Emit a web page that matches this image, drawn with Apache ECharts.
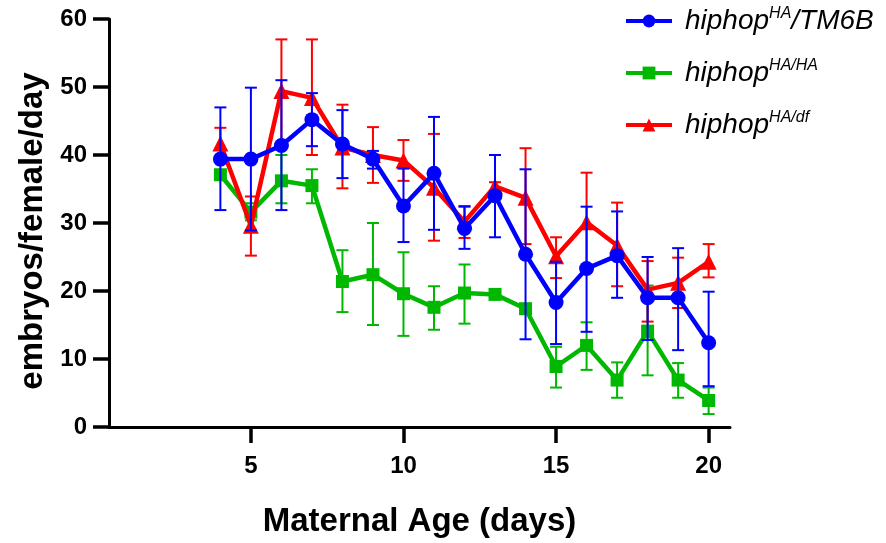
<!DOCTYPE html>
<html><head><meta charset="utf-8">
<script src="https://cdn.jsdelivr.net/npm/echarts@6/dist/echarts.min.js"></script>
<style>html,body{margin:0;padding:0;background:#fff}#c{width:886px;height:543px}</style>
</head><body><div id="c"></div>
<script>
const days = [4,5,6,7,8,9,10,11,12,13,14,15,16,17,18,19,20];
const xTicks = [5,10,15,20];
const yTicks = [0,10,20,30,40,50,60];

const tm6bMean  = [39.4,39.4,41.4,45.2,41.6,39.4,32.5,37.3,29.2,34.0,25.4,18.3,23.3,25.2,19.0,19.0,12.4];
const tm6bUpper = [47.0,49.9,51.0,49.1,46.6,40.6,38.0,45.6,32.4,40.0,37.9,24.3,32.4,31.7,25.0,26.3,19.9];
const tm6bLower = [31.9,28.9,31.9,41.3,36.6,38.0,27.2,29.0,26.2,27.9,12.9,12.2,14.0,19.0,12.8,11.3,6.0];

const haMean  = [37.1,31.6,36.2,35.5,21.4,22.4,19.6,17.6,19.7,19.5,17.4,8.9,12.0,6.9,14.1,6.9,3.9];
const haUpper = [37.6,32.9,40.0,37.9,26.0,30.0,25.7,20.7,23.9,19.9,17.8,11.8,15.4,9.5,20.8,9.4,5.8];
const haLower = [36.6,30.4,32.9,32.9,16.9,15.0,13.4,14.3,15.2,19.1,17.0,5.8,8.4,4.3,7.6,4.3,1.9];

const dfMean  = [41.7,29.6,49.4,48.4,41.1,40.0,39.2,35.2,30.2,35.4,33.7,25.1,30.1,26.7,20.2,21.2,24.3];
const dfUpper = [44.0,33.9,57.0,57.0,47.4,44.1,42.2,43.1,32.5,36.0,41.0,27.9,37.4,33.0,24.4,24.9,26.9];
const dfLower = [39.4,25.2,41.8,40.0,35.1,35.9,36.2,27.4,27.8,34.8,26.9,21.9,22.8,20.7,15.5,17.5,22.0];

const names = ['tm6b','haha','hadf'];
const BLUE = '#0000FF', GREEN = '#00B800', RED = '#FF0000';

function pts(mean){ return days.map((d,i)=>[d, mean[i]]); }
function errs(lo, hi){ return days.map((d,i)=>[d, lo[i], hi[i]]); }

function errSeries(data, color, z){
  return {
    type:'custom', data:data, z:z, silent:true,
    encode:{x:0, y:[1,2]},
    renderItem:function(params, api){
      const x = api.value(0), lo = api.value(1), hi = api.value(2);
      const a = api.coord([x, lo]), b = api.coord([x, hi]);
      const w = 6;
      const st = {stroke:color, lineWidth:2};
      return {type:'group', children:[
        {type:'line', shape:{x1:a[0],y1:a[1],x2:b[0],y2:b[1]}, style:st},
        {type:'line', shape:{x1:a[0]-w,y1:a[1],x2:a[0]+w,y2:a[1]}, style:st},
        {type:'line', shape:{x1:b[0]-w,y1:b[1],x2:b[0]+w,y2:b[1]}, style:st}
      ]};
    }
  };
}
function lineSeries(name, data, color, symbol, size, z){
  return {
    name:name, type:'line', data:data, z:z,
    symbol:symbol, symbolSize:size, showSymbol:true,
    lineStyle:{color:color, width:4.5},
    itemStyle:{color:color},
    emphasis:{disabled:true}, animation:false
  };
}

const chart = echarts.init(document.getElementById('c'), null, {renderer:'canvas'});
const axisFont = 'Liberation Sans, Arial, sans-serif';
chart.setOption({
  animation:false,
  backgroundColor:'#fff',
  grid:{left:109, right:156, top:19, bottom:114, containLabel:false},
  xAxis:{
    type:'value', min:0.35, max:20.7,
    name:'Maternal Age (days)', nameLocation:'middle', nameGap:78,
    nameTextStyle:{fontFamily:axisFont, fontWeight:'bold', fontSize:33, color:'#000'},
    axisLine:{show:true, onZero:false, lineStyle:{color:'#000', width:3}},
    axisTick:{show:true, customValues:xTicks, length:16, inside:false, lineStyle:{color:'#000', width:3.5}},
    axisLabel:{customValues:xTicks, margin:27, fontFamily:axisFont, fontWeight:'bold', fontSize:24, color:'#000'},
    splitLine:{show:false}
  },
  yAxis:{
    type:'value', min:0, max:60, interval:10,
    name:'embryos/female/day', nameLocation:'middle', nameGap:52, nameRotate:90,
    nameTextStyle:{fontFamily:axisFont, fontWeight:'bold', fontSize:33, color:'#000', padding:[0,16,0,0]},
    axisLine:{show:true, lineStyle:{color:'#000', width:3}},
    axisTick:{show:true, length:16, inside:false, lineStyle:{color:'#000', width:3.5}},
    axisLabel:{margin:22, fontFamily:axisFont, fontWeight:'bold', fontSize:24, color:'#000'},
    splitLine:{show:false}
  },
  legend:{
    orient:'vertical', left:619, top:1, itemGap:23,
    itemWidth:46, itemHeight:16,
    data:names,
    lineStyle:{width:4},
    formatter:function(n){
      if(n==='tm6b') return '{i|hiphop}{s|HA}{i|/TM6B}';
      if(n==='haha') return '{i|hiphop}{s|HA/HA}';
      return '{i|hiphop}{s|HA/df}';
    },
    textStyle:{
      padding:[0,0,0,8],
      rich:{
        i:{fontFamily:axisFont, fontStyle:'italic', fontSize:28, color:'#000', lineHeight:28},
        s:{fontFamily:axisFont, fontStyle:'italic', fontSize:16, color:'#000', padding:[0,0,14,0]}
      }
    }
  },
  series:[
    errSeries(errs(haLower, haUpper), GREEN, 2),
    lineSeries('haha', pts(haMean), GREEN, 'rect', 13, 3),
    errSeries(errs(dfLower, dfUpper), RED, 4),
    lineSeries('hadf', pts(dfMean), RED, 'triangle', 16, 5),
    errSeries(errs(tm6bLower, tm6bUpper), BLUE, 6),
    lineSeries('tm6b', pts(tm6bMean), BLUE, 'circle', 15, 7)
  ]
});
</script>
</body></html>
